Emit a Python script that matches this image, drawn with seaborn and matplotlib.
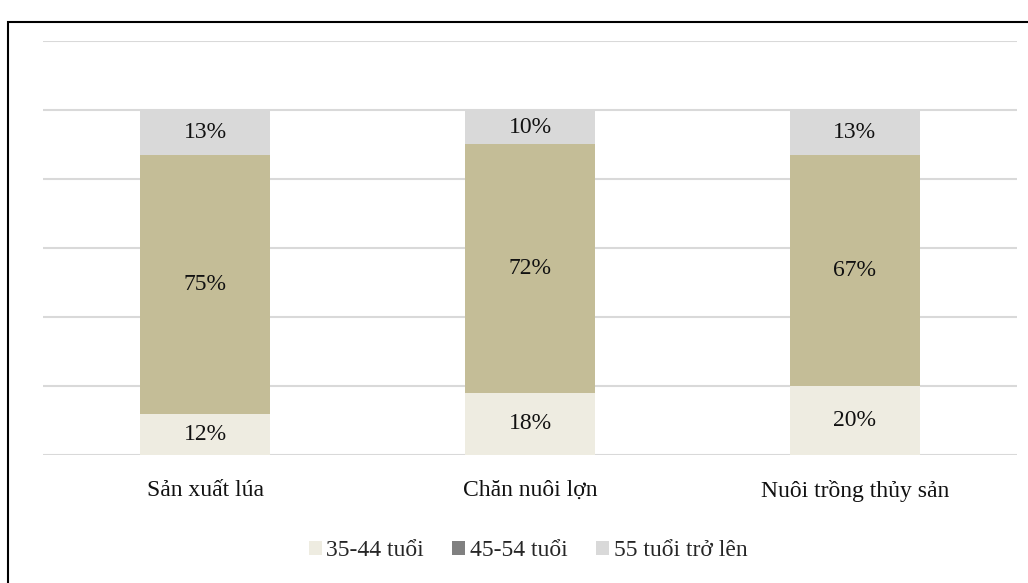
"""Stacked age-group shares by farming activity."""

import matplotlib

matplotlib.use("Agg")
import matplotlib.pyplot as plt
import pandas as pd
import seaborn as sns
from matplotlib.patches import Patch, Rectangle


CATEGORIES = ["Sản xuất lúa", "Chăn nuôi lợn", "Nuôi trồng thủy sản"]
AGE_GROUPS = ["35-44 tuổi", "45-54 tuổi", "55 tuổi trở lên"]
SHARE_35_44 = [12, 18, 20]
SHARE_45_54 = [75, 72, 67]
SHARE_55_UP = [13, 10, 13]
Y_TICKS = [0, 20, 40, 60, 80, 100, 120]

BAR_COLORS = ["#EEECE1", "#C4BD97", "#D9D9D9"]
LEGEND_COLORS = ["#EEECE1", "#808080", "#D9D9D9"]
FONT = "Liberation Serif"
FS = 17


def main():
    sns.set_theme(style="white")
    plt.rcParams["font.family"] = [FONT, "DejaVu Serif"]

    df = pd.DataFrame({
        "category": CATEGORIES,
        AGE_GROUPS[0]: SHARE_35_44,
        AGE_GROUPS[1]: SHARE_45_54,
        AGE_GROUPS[2]: SHARE_55_UP,
    })

    fig = plt.figure(figsize=(10.28, 5.83), dpi=100)
    ax = fig.add_axes([43 / 1028, 1 - 455 / 583, 974 / 1028, 414 / 583])

    for y in Y_TICKS:
        ax.axhline(y, color="#D9D9D9", linewidth=1.5, zorder=0)

    bottom = [0] * len(CATEGORIES)
    for group, color in zip(AGE_GROUPS, BAR_COLORS):
        sns.barplot(data=df, x="category", y=group, color=color, width=0.4,
                    bottom=bottom, saturation=1, linewidth=0, ax=ax, zorder=2)
        for i, (val, base) in enumerate(zip(df[group], bottom)):
            ax.text(i, base + val / 2, f"{val}%", ha="center", va="center",
                    fontsize=FS, color="#111111", zorder=3)
        bottom = [b + v for b, v in zip(bottom, df[group])]

    ax.set_xlim(-0.5, 2.5)
    ax.set_ylim(0, 120)
    ax.set_yticks([])
    ax.set_xlabel("")
    ax.set_ylabel("")
    ax.tick_params(axis="x", length=0, pad=18, labelsize=FS, labelcolor="#111111")
    sns.despine(ax=ax, left=True, bottom=True)

    handles = [Patch(facecolor=c, edgecolor="none", label=g)
               for g, c in zip(AGE_GROUPS, LEGEND_COLORS)]
    fig.legend(handles=handles, loc="center",
               bbox_to_anchor=(528 / 1028, 1 - 551 / 583),
               ncol=3, frameon=False, fontsize=FS, handlelength=0.55,
               handleheight=0.55, handletextpad=0.2, columnspacing=1.2)

    fig.add_artist(Rectangle((8 / 1028, -0.2), 1.2, 1.2 - 22 / 583,
                             transform=fig.transFigure, fill=False,
                             edgecolor="black", linewidth=1.5))

    fig.savefig("out.png", dpi=100)
    plt.close(fig)


if __name__ == "__main__":
    main()
